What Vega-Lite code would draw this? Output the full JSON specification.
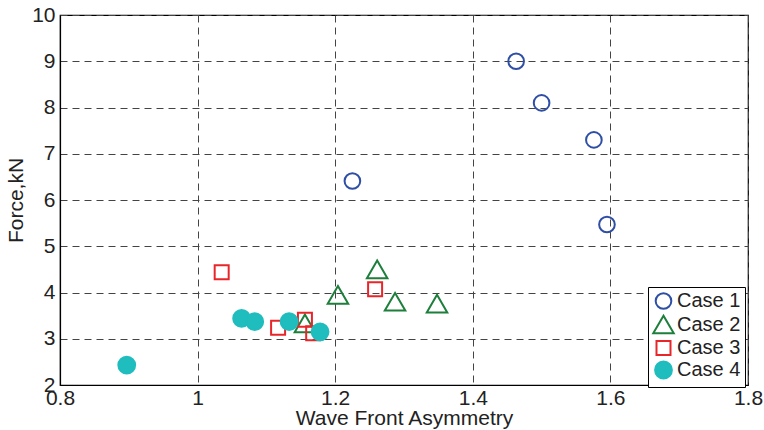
{
  "$schema": "https://vega.github.io/schema/vega-lite/v6.json",
  "width": 688,
  "height": 370,
  "autosize": {"type": "none"},
  "padding": {"left": 60, "top": 15, "right": 16, "bottom": 45},
  "background": "white",
  "config": {
    "font": "Liberation Sans, Arial",
    "view": {"stroke": "black", "strokeWidth": 1.2},
    "axis": {
      "grid": true,
      "gridColor": "#444",
      "gridDash": [7, 5],
      "gridWidth": 1,
      "gridOpacity": 1,
      "domainColor": "black",
      "domainWidth": 1.2,
      "ticks": false,
      "labelColor": "#222",
      "titleColor": "#222",
      "labelFontSize": 21,
      "titleFontSize": 21,
      "titleFontWeight": "normal",
      "labelFont": "Liberation Sans, Arial",
      "titleFont": "Liberation Sans, Arial"
    }
  },
  "data": {
    "values": [
      {"x": 1.463, "y": 9.0, "case": "Case 1"},
      {"x": 1.500, "y": 8.10, "case": "Case 1"},
      {"x": 1.576, "y": 7.30, "case": "Case 1"},
      {"x": 1.595, "y": 5.47, "case": "Case 1"},
      {"x": 1.225, "y": 6.41, "case": "Case 1"},
      {"x": 1.204, "y": 3.95, "case": "Case 2"},
      {"x": 1.261, "y": 4.50, "case": "Case 2"},
      {"x": 1.287, "y": 3.80, "case": "Case 2"},
      {"x": 1.348, "y": 3.76, "case": "Case 2"},
      {"x": 1.156, "y": 3.33, "case": "Case 2"},
      {"x": 1.035, "y": 4.44, "case": "Case 3"},
      {"x": 1.117, "y": 3.24, "case": "Case 3"},
      {"x": 1.156, "y": 3.41, "case": "Case 3"},
      {"x": 1.168, "y": 3.12, "case": "Case 3"},
      {"x": 1.258, "y": 4.07, "case": "Case 3"},
      {"x": 0.897, "y": 2.43, "case": "Case 4"},
      {"x": 1.064, "y": 3.44, "case": "Case 4"},
      {"x": 1.083, "y": 3.37, "case": "Case 4"},
      {"x": 1.133, "y": 3.37, "case": "Case 4"},
      {"x": 1.178, "y": 3.15, "case": "Case 4"}
    ]
  },
  "mark": {"type": "point", "strokeWidth": 2, "opacity": 1},
  "encoding": {
    "x": {
      "field": "x", "type": "quantitative",
      "scale": {"domain": [0.8, 1.8], "nice": false, "zero": false},
      "axis": {"values": [0.8, 1, 1.2, 1.4, 1.6, 1.8], "format": "~g", "title": "Wave Front Asymmetry", "labelPadding": 2, "titlePadding": -1, "labelFlush": false}
    },
    "y": {
      "field": "y", "type": "quantitative",
      "scale": {"domain": [2, 10], "nice": false, "zero": false},
      "axis": {"values": [2, 3, 4, 5, 6, 7, 8, 9, 10], "title": "Force,kN", "labelPadding": 5, "titlePadding": 5, "labelFlush": false}
    },
    "shape": {
      "field": "case", "type": "nominal",
      "scale": {"domain": ["Case 1", "Case 2", "Case 3", "Case 4"], "range": ["circle", "triangle-up", "square", "circle"]},
      "legend": {
        "title": null,
        "orient": "none",
        "legendX": 588,
        "legendY": 272,
        "padding": 4,
        "strokeColor": "black",
        "fillColor": "white",
        "labelFontSize": 20,
        "labelColor": "#222",
        "labelFont": "Liberation Sans, Arial",
        "rowPadding": -2,
        "labelOffset": 2,
        "symbolStrokeWidth": 2
      }
    },
    "stroke": {
      "field": "case", "type": "nominal",
      "scale": {"domain": ["Case 1", "Case 2", "Case 3", "Case 4"], "range": ["#2f4ea6", "#1d7f3b", "#e8262a", "#1fbdbd"]}
    },
    "fill": {
      "field": "case", "type": "nominal",
      "scale": {"domain": ["Case 1", "Case 2", "Case 3", "Case 4"], "range": ["transparent", "transparent", "transparent", "#1fbdbd"]}
    },
    "size": {
      "field": "case", "type": "nominal",
      "scale": {"type": "ordinal", "domain": ["Case 1", "Case 2", "Case 3", "Case 4"], "range": [245, 420, 196, 283]}
    }
  }
}
